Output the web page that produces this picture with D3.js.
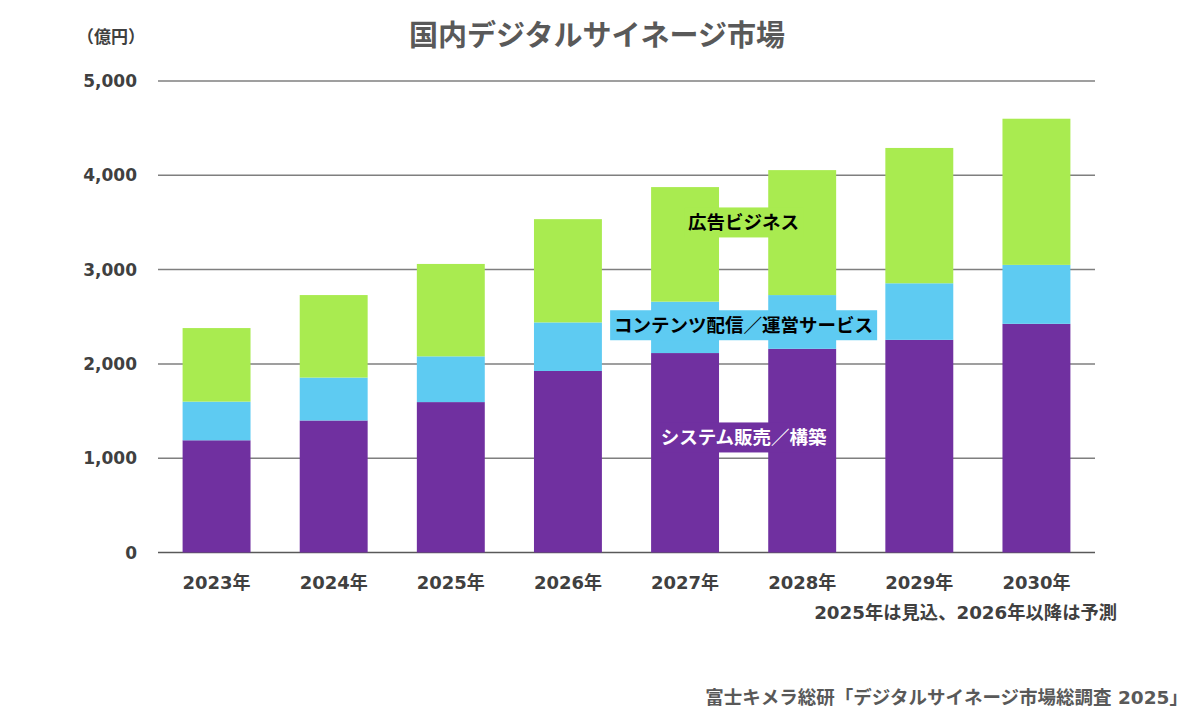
<!DOCTYPE html>
<html>
<head>
<meta charset="utf-8">
<script src="https://cdn.jsdelivr.net/npm/d3@7"></script>
<style>
  body { margin: 0; background: #fff; }
  svg text { font-family: "DejaVu Sans", "Noto Sans CJK JP", sans-serif; font-weight: bold; }
  svg text.jp { font-family: "Noto Sans CJK JP", sans-serif; }
</style>
</head>
<body>
<div id="chart"></div>
<script>
// data
var years = ["2023年", "2024年", "2025年", "2026年", "2027年", "2028年", "2029年", "2030年"];
var system = [1190, 1400, 1595, 1925, 2115, 2160, 2255, 2425];   // システム販売／構築
var contents = [410, 455, 485, 515, 545, 570, 600, 625];         // コンテンツ配信／運営サービス
var ads = [780, 875, 980, 1095, 1215, 1325, 1435, 1550];         // 広告ビジネス
var yTicks = [0, 1000, 2000, 3000, 4000, 5000];
var seriesNames = ["システム販売／構築", "コンテンツ配信／運営サービス", "広告ビジネス"];
var colors = ["#7030a0", "#5ecbf2", "#a9eb50"];

var W = 1200, H = 718;
var svg = d3.select("#chart").append("svg").attr("width", W).attr("height", H)

var x = d3.scaleBand().domain(years).range([158, 1095]).paddingInner(0.42).paddingOuter(0.21)
var y = d3.scaleLinear().domain([0, 5000]).range([552.5, 81])

// gridlines
svg.append("g").selectAll("line").data(yTicks).join("line")
  .attr("x1", 158).attr("x2", 1095)
  .attr("y1", d => y(d)).attr("y2", d => y(d))
  .attr("stroke", d => d == 0 ? "#595959" : "#7f7f7f")
  .attr("stroke-width", 1.5)

// y axis labels
svg.append("g").selectAll("text").data(yTicks).join("text")
  .attr("x", 137).attr("y", d => y(d)).attr("dy", "0.36em")
  .attr("text-anchor", "end").attr("font-size", 17).attr("fill", "#404040")
  .text(d => d3.format(",")(d))

svg.append("text").attr("class", "jp").attr("x", 111).attr("y", 37).attr("dy", "0.36em")
  .attr("text-anchor", "middle").attr("font-size", 17).attr("fill", "#404040")
  .text("（億円）")

// stacked bars
var rows = years.map((yr, i) => ({ year: yr, s0: system[i], s1: contents[i], s2: ads[i] }))
var stack = d3.stack().keys(["s0", "s1", "s2"])(rows)

svg.append("g").selectAll("g").data(stack).join("g")
  .attr("fill", (d, i) => colors[i])
  .selectAll("rect").data(d => d).join("rect")
  .attr("x", d => x(d.data.year))
  .attr("width", x.bandwidth())
  .attr("y", d => y(d[1]))
  .attr("height", d => y(d[0]) - y(d[1]))

// x axis labels
svg.append("g").selectAll("text").data(years).join("text")
  .attr("x", d => x(d) + x.bandwidth() / 2).attr("y", 583).attr("dy", "0.36em")
  .attr("text-anchor", "middle").attr("font-size", 18).attr("fill", "#404040")
  .text(d => d)

// series labels, sitting between 2027 and 2028 bars
var labelX = (x("2027年") + x("2028年")) / 2 + x.bandwidth() / 2;
var labelVals = [1220, 2410, 3500];
var labelText = ["#ffffff", "#000000", "#000000"];

seriesNames.forEach(function(name, i) {
  var g = svg.append("g")
  var t = g.append("text").attr("class", "jp")
    .attr("x", labelX).attr("y", y(labelVals[i])).attr("dy", "0.36em")
    .attr("text-anchor", "middle").attr("font-size", 18.5).attr("fill", labelText[i])
    .text(name)
  var bb = t.node().getBBox()
  g.insert("rect", "text")
    .attr("x", bb.x - 4).attr("y", y(labelVals[i]) - 15)
    .attr("width", bb.width + 8).attr("height", 30)
    .attr("fill", colors[i])
})

// title
svg.append("text").attr("class", "jp").attr("x", 597).attr("y", 36).attr("dy", "0.36em")
  .attr("text-anchor", "middle").attr("font-size", 29).attr("fill", "#595959")
  .text("国内デジタルサイネージ市場")

// notes
svg.append("text").attr("x", 1117).attr("y", 612).attr("dy", "0.36em")
  .attr("text-anchor", "end").attr("font-size", 18.3).attr("fill", "#404040")
  .text("2025年は見込、2026年以降は予測")

svg.append("text").attr("x", 1188).attr("y", 697).attr("dy", "0.36em")
  .attr("text-anchor", "end").attr("font-size", 18.5).attr("fill", "#595959")
  .text("富士キメラ総研「デジタルサイネージ市場総調査 2025」")
</script>
</body>
</html>
